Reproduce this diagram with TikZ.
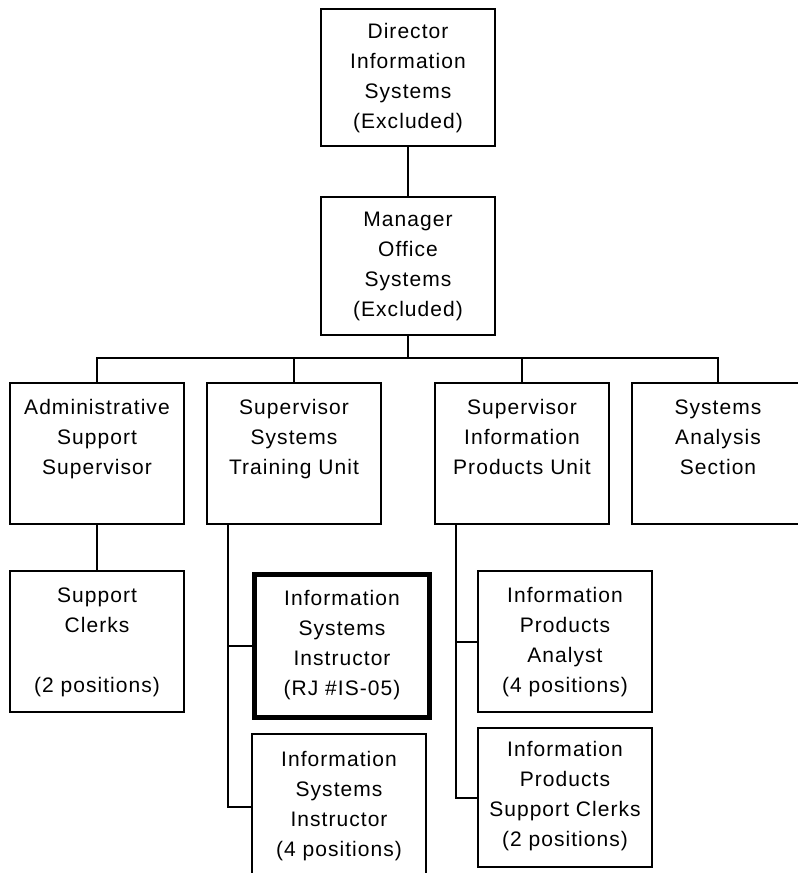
\documentclass[tikz,border=0pt]{standalone}
\usepackage{fontspec}
\setmainfont{Liberation Sans}[LetterSpace=5]
\begin{document}
\begin{tikzpicture}[x=1pt,y=-1pt,
  box/.style={draw=black, line width=2pt, rectangle, inner sep=0pt},
  thickbox/.style={draw=black, line width=5pt, rectangle, inner sep=0pt},
  txt/.style={anchor=north, align=center, inner sep=0pt, font=\fontsize{21}{30}\selectfont},
  conn/.style={draw=black, line width=2pt}]
\useasboundingbox (0,0) rectangle (798,873);
\clip (0,0) rectangle (798,873);
% boxes
\node[box, minimum width=174pt, minimum height=137pt] (dir) at (408,77.5) {};
\node[box, minimum width=174pt, minimum height=138pt] (mgr) at (408,266) {};
\node[box, minimum width=174pt, minimum height=141pt] (adm) at (97,453.5) {};
\node[box, minimum width=174pt, minimum height=141pt] (trn) at (294,453.5) {};
\node[box, minimum width=174pt, minimum height=141pt] (prd) at (522,453.5) {};
\node[box, minimum width=172pt, minimum height=141pt] (ana) at (718,453.5) {};
\node[box, minimum width=174pt, minimum height=141pt] (clk) at (97,641.5) {};
\node[thickbox, minimum width=175pt, minimum height=143pt] (isr) at (342,646) {};
\node[box, minimum width=174pt, minimum height=146pt] (is4) at (339,807) {};
\node[box, minimum width=174pt, minimum height=141pt] (anl) at (565,641.5) {};
\node[box, minimum width=174pt, minimum height=139pt] (pcl) at (565,797.5) {};
% texts
\node[txt] (dirT) at ([yshift=-15.5pt]dir.north) {Director\\Information\\Systems\\(Excluded)};
\node[txt] (mgrT) at ([yshift=-15.5pt]mgr.north) {Manager\\Office\\Systems\\(Excluded)};
\node[txt] (admT) at ([yshift=-17.5pt]adm.north) {Administrative\\Support\\Supervisor};
\node[txt] (trnT) at ([yshift=-17.5pt]trn.north) {Supervisor\\Systems\\Training Unit};
\node[txt] (prdT) at ([yshift=-17.5pt]prd.north) {Supervisor\\Information\\Products Unit};
\node[txt] (anaT) at ([yshift=-17.5pt]ana.north) {Systems\\Analysis\\Section};
\node[txt] (clkT) at ([yshift=-17.5pt]clk.north) {Support\\Clerks\\\mbox{}\\(2 positions)};
\node[txt] (isrT) at ([yshift=-18pt]isr.north) {Information\\Systems\\Instructor\\(RJ \#IS-05)};
\node[txt] (is4T) at ([yshift=-18.5pt]is4.north) {Information\\Systems\\Instructor\\(4 positions)};
\node[txt] (anlT) at ([yshift=-17.5pt]anl.north) {Information\\Products\\Analyst\\(4 positions)};
\node[txt] (pclT) at ([yshift=-14.5pt]pcl.north) {Information\\Products\\Support Clerks\\(2 positions)};
% connectors
\coordinate (bus) at (408,358);
\draw[conn] (dir.south) -- (mgr.north);
\draw[conn] (mgr.south) -- (bus);
\draw[conn] (adm.north) -- (adm.north |- bus) -- (ana.north |- bus) -- (ana.north);
\draw[conn] (trn.north) -- (trn.north |- bus);
\draw[conn] (prd.north) -- (prd.north |- bus);
\draw[conn] (adm.south) -- (clk.north);
\coordinate (trv) at ([xshift=22pt]trn.south west);
\draw[conn] (trv) |- (is4.west);
\draw[conn] (trv |- isr.west) -- (isr.west);
\coordinate (prv) at ([xshift=22pt]prd.south west);
\draw[conn] (prv) |- (pcl.west);
\draw[conn] (prv |- anl.west) -- (anl.west);
\end{tikzpicture}
\end{document}
